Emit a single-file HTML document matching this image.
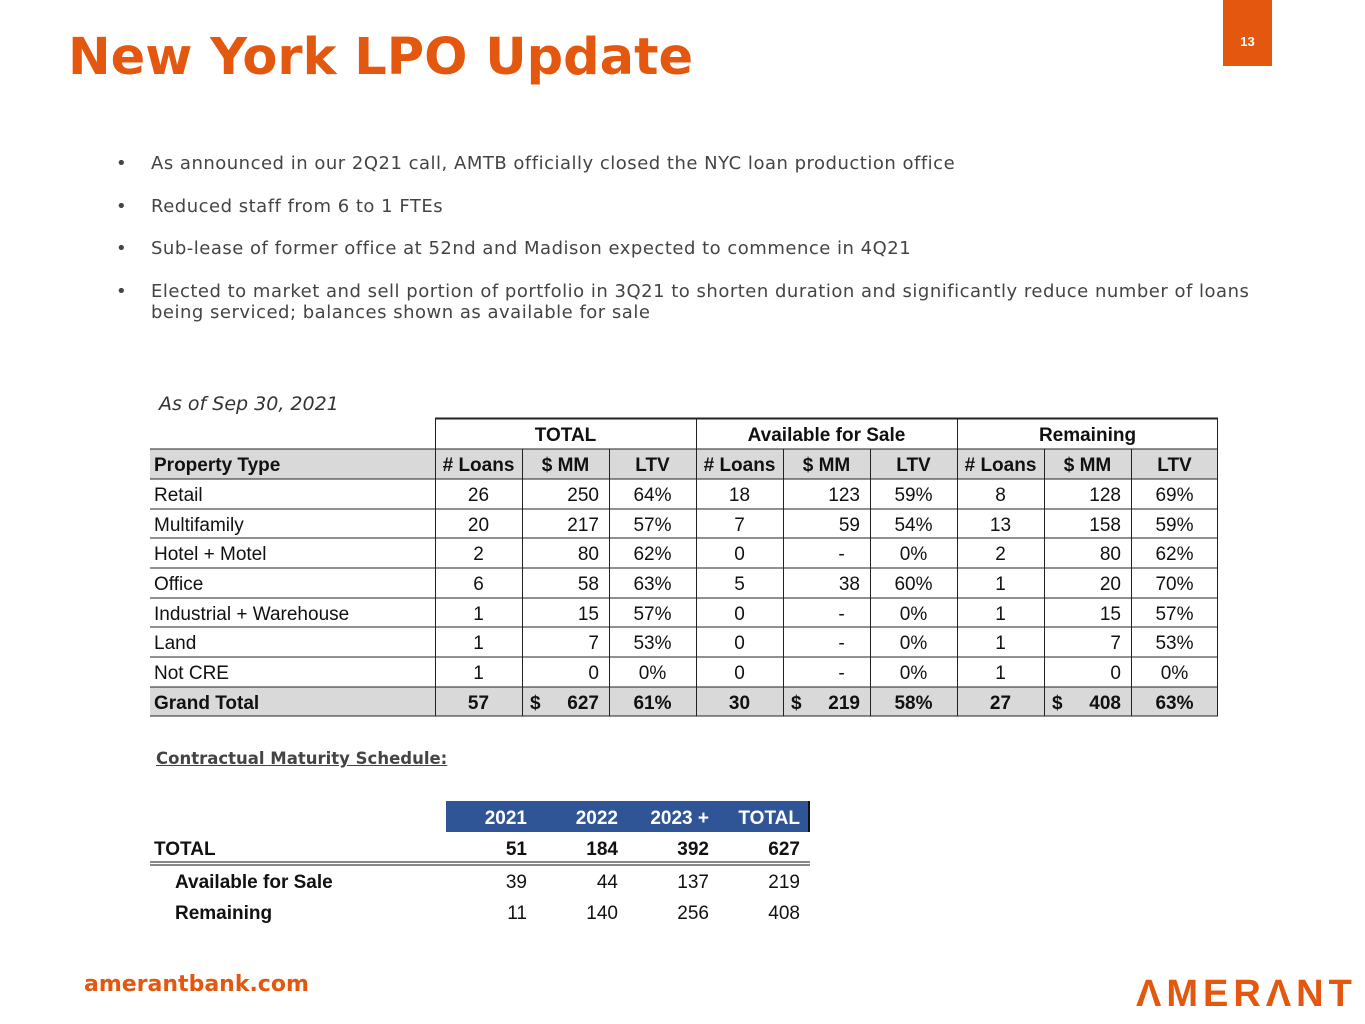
<!DOCTYPE html>
<html><head><meta charset="utf-8"><style>
body{margin:0;width:1365px;height:1024px;position:relative;background:#fff;font-family:"Liberation Sans",sans-serif;overflow:hidden}
.a{position:absolute;white-space:nowrap}
.c{position:absolute;box-sizing:border-box;height:30px;line-height:34px;font-size:19px;color:#111;white-space:nowrap}
.bul{font-family:"DejaVu Sans",sans-serif;font-size:18px;color:#444;letter-spacing:0.5px}
</style></head><body>
<div class="a" style="left:68px;top:28px;font-family:'DejaVu Sans',sans-serif;font-size:51px;font-weight:bold;color:#E4570F">New York LPO Update</div>
<div class="a" style="left:1223px;top:0;width:49px;height:66px;background:#E4570F;color:#fff;font-size:13px;font-weight:bold;text-align:center;line-height:84px">13</div>
<div class="a bul" style="left:116px;top:153px">•</div><div class="a bul" style="left:151px;top:153px">As announced in our 2Q21 call, AMTB officially closed the NYC loan production office</div>
<div class="a bul" style="left:116px;top:196px">•</div><div class="a bul" style="left:151px;top:196px">Reduced staff from 6 to 1 FTEs</div>
<div class="a bul" style="left:116px;top:238px">•</div><div class="a bul" style="left:151px;top:238px">Sub-lease of former office at 52nd and Madison expected to commence in 4Q21</div>
<div class="a bul" style="left:116px;top:281px">•</div><div class="a bul" style="left:151px;top:281px;line-height:21px">Elected to market and sell portion of portfolio in 3Q21 to shorten duration and significantly reduce number of loans<br>being serviced; balances shown as available for sale</div>
<div class="a" style="left:159px;top:393px;font-family:'DejaVu Sans',sans-serif;font-size:19px;font-style:italic;color:#333">As of Sep 30, 2021</div>
<svg class="a" style="left:0;top:0" width="1365" height="1024">
<rect x="150" y="449" width="1068" height="30" fill="#d9d9d9"/>
<rect x="150" y="687" width="1068" height="29" fill="#d9d9d9"/>
<g stroke="#222" stroke-width="1">
<line x1="435" y1="418.5" x2="1218" y2="418.5" stroke-width="2"/>
<line x1="150" y1="449" x2="1218" y2="449"/>
<line x1="150" y1="479" x2="1218" y2="479"/>
<line x1="150" y1="509" x2="1218" y2="509"/>
<line x1="150" y1="538" x2="1218" y2="538"/>
<line x1="150" y1="568" x2="1218" y2="568"/>
<line x1="150" y1="598" x2="1218" y2="598"/>
<line x1="150" y1="627" x2="1218" y2="627"/>
<line x1="150" y1="657" x2="1218" y2="657"/>
<line x1="150" y1="687" x2="1218" y2="687"/>
<line x1="150" y1="716" x2="1218" y2="716"/>
<line x1="435.5" y1="418" x2="435.5" y2="716"/>
<line x1="696.5" y1="418" x2="696.5" y2="716"/>
<line x1="957.5" y1="418" x2="957.5" y2="716"/>
<line x1="1217.5" y1="418" x2="1217.5" y2="716"/>
<line x1="522.5" y1="449" x2="522.5" y2="716"/><line x1="609.5" y1="449" x2="609.5" y2="716"/>
<line x1="783.5" y1="449" x2="783.5" y2="716"/><line x1="870.5" y1="449" x2="870.5" y2="716"/>
<line x1="1044.5" y1="449" x2="1044.5" y2="716"/><line x1="1131.5" y1="449" x2="1131.5" y2="716"/>
</g>
<rect x="446" y="801" width="364" height="31" fill="#2F5597"/>
<line x1="809" y1="801" x2="809" y2="832" stroke="#111" stroke-width="2"/>
<line x1="150" y1="862" x2="810" y2="862" stroke="#111" stroke-width="1"/>
<line x1="150" y1="865" x2="810" y2="865" stroke="#111" stroke-width="1"/>
</svg>
<div id="tbl"></div>
<div class="a" style="left:156px;top:749px;font-family:'DejaVu Sans',sans-serif;font-size:16.5px;font-weight:bold;color:#444;text-decoration:underline">Contractual Maturity Schedule:</div>
<div class="a" style="left:84px;top:972px;font-family:'DejaVu Sans',sans-serif;font-size:22px;font-weight:bold;color:#E4570F">amerantbank.com</div>
<div class="a" style="left:1136px;top:970px;font-size:38px;font-weight:bold;color:#E4570F;letter-spacing:5px;line-height:48px">ΛMERΛNT</div>
<script>
var cols=[150,435,522,609,696,783,870,957,1044,1131,1218];
var h=document.getElementById('tbl'),s='';
function cell(x,w,y,txt,al,b,col,pad){if(pad===undefined)pad=4;s+='<div class="c" style="left:'+x+'px;width:'+w+'px;top:'+y+'px;text-align:'+al+';padding:0 '+pad+'px;'+(b?'font-weight:bold;':'')+(col?'color:'+col+';':'')+'">'+txt+'</div>';}
cell(435,261,419,'TOTAL','center',1);cell(696,261,419,'Available for Sale','center',1);cell(957,261,419,'Remaining','center',1);
var hd=['Property Type','# Loans','$ MM','LTV','# Loans','$ MM','LTV','# Loans','$ MM','LTV'];
var rows=[['Retail','26','250','64%','18','123','59%','8','128','69%'],['Multifamily','20','217','57%','7','59','54%','13','158','59%'],['Hotel + Motel','2','80','62%','0','-','0%','2','80','62%'],['Office','6','58','63%','5','38','60%','1','20','70%'],['Industrial + Warehouse','1','15','57%','0','-','0%','1','15','57%'],['Land','1','7','53%','0','-','0%','1','7','53%'],['Not CRE','1','0','0%','0','-','0%','1','0','0%'],['Grand Total','57','627','61%','30','219','58%','27','408','63%']];
var ys=[479,509,538,568,598,627,657,687];
for(var i=0;i<10;i++)cell(cols[i],cols[i+1]-cols[i],449,hd[i],i==0?'left':'center',1);
rows.forEach(function(r,k){var b=k==7;for(var i=0;i<10;i++){var al=i==0?'left':(i%3==2?'right':'center');var w=cols[i+1]-cols[i];
if(i%3==2&&r[i]=='-'){cell(cols[i]+30,w-30,ys[k],r[i],'center',b);continue;}
cell(cols[i],w,ys[k],r[i],al,b,null,i%3==2?10:4);
if(b&&i%3==2)cell(cols[i],40,ys[k],'$','left',1,null,8);}});
var mh=['2021','2022','2023 +','TOTAL'],mx=[527,618,709,800];
mh.forEach(function(t,i){cell(mx[i]-90,90,802,t,'right',1,'#fff',0);});
var mr=[['TOTAL',['51','184','392','627'],1,154,833],['Available for Sale',['39','44','137','219'],0,175,866],['Remaining',['11','140','256','408'],0,175,897]];
mr.forEach(function(r){cell(r[3],250,r[4],r[0],'left',1,null,0);r[1].forEach(function(v,i){cell(mx[i]-90,90,r[4],v,'right',r[2],null,0);});});
h.innerHTML=s;
</script>
</body></html>
